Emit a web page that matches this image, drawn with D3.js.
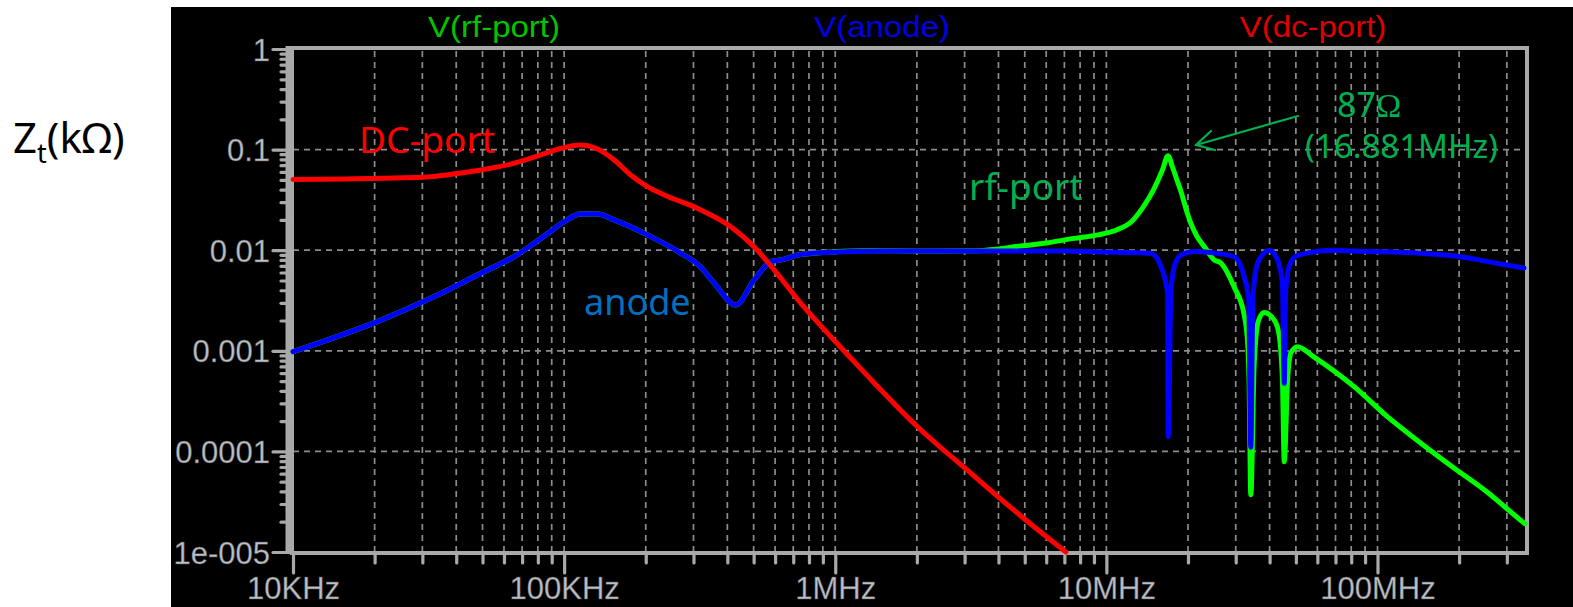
<!DOCTYPE html>
<html><head><meta charset="utf-8">
<script src="https://cdn.jsdelivr.net/npm/d3@7"></script>
<style>body{margin:0;background:#fff;} svg{display:block}</style>
</head><body>
<svg id="c" width="1573" height="607"></svg>
<script>
// ---------- data ----------
const xTickValues = [1e4, 1e5, 1e6, 1e7, 1e8];
const xTickLabels = ["10KHz", "100KHz", "1MHz", "10MHz", "100MHz"];
const yTickValues = [1, 0.1, 0.01, 0.001, 0.0001, 0.00001];
const yTickLabels = ["1", "0.1", "0.01", "0.001", "0.0001", "1e-005"];
const seriesNames = ["V(rf-port)", "V(anode)", "V(dc-port)"];
const annotationLabels = ["rf-port", "anode", "DC-port"];

// V(dc-port): frequency (Hz) and Zt (kOhm)
const dcFreq = [1e4, 2.11e4, 3.22e4, 4.05e4, 4.93e4, 6.53e4, 8.21e4, 9.46e4, 1.15e5, 1.31e5, 1.53e5,
  1.76e5, 2.03e5, 2.34e5, 3.10e5, 4.12e5, 5.02e5, 5.96e5, 7.47e5, 9.89e5, 1.31e6, 2.01e6, 3.07e6, 5.41e6, 7.09e6];
const dcZ = [0.0505, 0.0519, 0.0538, 0.058, 0.0627, 0.0731, 0.0884, 0.1007, 0.111, 0.103, 0.0788,
  0.056, 0.0428, 0.0354, 0.0261, 0.0171, 0.0108, 0.00635, 0.00296, 0.00128, 5.7e-4, 1.76e-4, 6.5e-5, 1.78e-5, 1.0e-5];

// V(anode)
const anodeFreq = [1e4, 2.11e4, 3.22e4, 4.93e4, 6.53e4, 8.72e4, 1.0e5, 1.15e5, 1.33e5, 1.53e5, 2.03e5,
  2.70e5, 3.18e5, 3.58e5, 4.30e5, 5.02e5, 5.80e5, 6.30e5, 7.27e5, 8.75e5, 1.47e6, 6.97e6, 9.6e6,
  1.37e7, 1.46e7, 1.59e7, 1.658e7, 1.682e7, 1.69e7, 1.73e7, 1.78e7, 1.88e7, 2.11e7, 2.57e7,
  2.96e7, 3.22e7, 3.35e7, 3.41e7, 3.47e7, 3.56e7, 3.72e7, 3.99e7, 4.28e7, 4.46e7, 4.53e7, 4.59e7,
  4.72e7, 5.07e7, 6.92e7, 8.2e7, 1.45e8, 2.03e8, 2.55e8, 3.47e8];
const anodeZ = [0.00098, 0.00202, 0.00333, 0.00589, 0.00861, 0.0147, 0.0192, 0.0229, 0.0229, 0.020, 0.0142,
  0.0093, 0.00686, 0.00469, 0.00285, 0.00506, 0.00769, 0.0080, 0.00896, 0.00944, 0.0098, 0.0098, 0.0096,
  0.0094, 0.0093, 0.0069, 0.0047, 0.0037, 1.4e-4, 0.0037, 0.0069, 0.0089, 0.0097, 0.0093,
  0.0086, 0.0055, 0.0032, 1.1e-4, 0.0032, 0.0064, 0.0086, 0.0100, 0.0080, 0.0047, 4.75e-4, 0.0040,
  0.0069, 0.0089, 0.0100, 0.0098, 0.0093, 0.0086, 0.0077, 0.00665];

// V(rf-port) (below ~1 MHz it lies under V(anode))
const rfFreq = [1e4, 2.11e4, 3.22e4, 4.93e4, 6.53e4, 8.72e4, 1.0e5, 1.15e5, 1.33e5, 1.53e5, 2.03e5,
  2.70e5, 3.18e5, 3.58e5, 4.30e5, 5.02e5, 5.80e5, 6.30e5, 7.27e5, 8.75e5, 1.31e6, 2.0e6, 3.35e6,
  4.84e6, 6.0e6, 7.6e6, 9.3e6, 1.09e7, 1.24e7, 1.37e7, 1.49e7, 1.61e7, 1.688e7, 1.75e7, 1.83e7,
  1.88e7, 1.99e7, 2.05e7, 2.16e7, 2.30e7, 2.50e7, 2.64e7, 2.96e7, 3.22e7, 3.32e7, 3.36e7, 3.41e7,
  3.51e7, 3.64e7, 3.82e7, 4.17e7, 4.33e7, 4.46e7, 4.53e7, 4.66e7, 4.79e7, 5.07e7, 5.82e7, 8.2e7,
  1.09e8, 1.45e8, 1.92e8, 2.55e8, 2.93e8, 3.50e8];
const rfZ = [0.00098, 0.00202, 0.00333, 0.00589, 0.00861, 0.0147, 0.0192, 0.0229, 0.0229, 0.020, 0.0142,
  0.0093, 0.00686, 0.00469, 0.00285, 0.00506, 0.00769, 0.0080, 0.00896, 0.00944, 0.0099, 0.0098, 0.0099,
  0.0110, 0.0118, 0.0131, 0.0142, 0.0159, 0.0193, 0.0271, 0.0396, 0.0627, 0.087, 0.068, 0.048,
  0.039, 0.0232, 0.0185, 0.0137, 0.0108, 0.0080, 0.0075, 0.0043, 0.0023, 0.0012, 5.0e-4, 3.7e-5,
  7.5e-4, 0.0020, 0.0024, 0.0020, 0.00148, 5.1e-4, 7.9e-5, 5.1e-4, 9.5e-4, 0.0011, 8.7e-4, 4.4e-4,
  2.2e-4, 1.2e-4, 6.8e-5, 3.9e-5, 2.85e-5, 1.9e-5];

// ---------- chart ----------
const W = 1573, H = 607;
const svg = d3.select("#c");
svg.append("rect").attr("width", W).attr("height", H).attr("fill", "#fff");
svg.append("rect").attr("x", 171).attr("y", 7).attr("width", W - 171).attr("height", H - 7).attr("fill", "#000");

const L = 293, R = 1525, T = 49, B = 552;
const x = d3.scaleLog().domain([1e4, 3.5e8]).range([L, R]);
const y = d3.scaleLog().domain([1e-5, 1]).range([B, T]);

const xMinor = [];
d3.range(4, 9).forEach(e => d3.range(2, 10).forEach(m => { const v = m * Math.pow(10, e); if (v < 3.5e8) xMinor.push(v); }));
const yMinor = [];
d3.range(-5, 0).forEach(e => d3.range(2, 10).forEach(m => yMinor.push(m * Math.pow(10, e))));

const gridCol = "#8c8c8c", axisCol = "#a9a9a9", labCol = "#b3c0d2";

// grid
const grid = svg.append("g").attr("stroke", gridCol).attr("stroke-width", 1.7).attr("stroke-dasharray", "6,5");
grid.selectAll(".vx").data(xMinor.concat(xTickValues.slice(1))).join("line")
  .attr("x1", d => x(d)).attr("x2", d => x(d)).attr("y1", T + 2).attr("y2", B);
grid.selectAll(".hy").data(yTickValues.slice(1, -1)).join("line")
  .attr("x1", L).attr("x2", R).attr("y1", d => y(d)).attr("y2", d => y(d));

// frame
svg.append("rect").attr("x", L - 1).attr("y", T - 1).attr("width", R - L + 3).attr("height", B - T + 2)
  .attr("fill", "none").attr("stroke", axisCol).attr("stroke-width", 4);

// left axis: thick band + ticks
svg.append("line").attr("x1", L - 4).attr("x2", L - 4).attr("y1", T - 3).attr("y2", B + 2)
  .attr("stroke", axisCol).attr("stroke-width", 7);
function styleAxis(g) {
  g.select(".domain").remove();
  g.selectAll(".tick line").attr("stroke", axisCol).attr("stroke-width", 3.2).attr("stroke-linecap", "round");
}
const yMinorAxis = svg.append("g").attr("transform", `translate(${L - 4},0)`)
  .call(d3.axisLeft(y).tickValues(yMinor).tickSize(8).tickFormat(""));
styleAxis(yMinorAxis);
const yMajorAxis = svg.append("g").attr("transform", `translate(${L - 4},0)`)
  .call(d3.axisLeft(y).tickValues(yTickValues).tickSize(16).tickPadding(3)
    .tickFormat((d, i) => yTickLabels[i]));
styleAxis(yMajorAxis);
yMajorAxis.selectAll(".tick text").attr("fill", labCol).attr("font-family", "Liberation Sans, Arial, sans-serif")
  .attr("font-size", 31).attr("stroke", "#6b5030").attr("stroke-width", 0.4).attr("dy", "0.36em");

// bottom axis
const xMinorAxis = svg.append("g").attr("transform", `translate(0,${B + 1})`)
  .call(d3.axisBottom(x).tickValues(xMinor).tickSize(10).tickFormat(""));
styleAxis(xMinorAxis);
const xMajorAxis = svg.append("g").attr("transform", `translate(0,${B + 1})`)
  .call(d3.axisBottom(x).tickValues(xTickValues).tickSize(20).tickPadding(4)
    .tickFormat((d, i) => xTickLabels[i]));
styleAxis(xMajorAxis);
xMajorAxis.selectAll(".tick text").attr("fill", labCol).attr("font-family", "Liberation Sans, Arial, sans-serif")
  .attr("font-size", 31).attr("stroke", "#6b5030").attr("stroke-width", 0.4);

// series
const series = [
  { f: rfFreq, z: rfZ, color: "#00ff00" },
  { f: anodeFreq, z: anodeZ, color: "#0000ff" },
  { f: dcFreq, z: dcZ, color: "#ff0000" }
];
const line = d3.line().x(d => x(d[0])).y(d => y(d[1])).curve(d3.curveMonotoneX);
const plot = svg.append("g");
series.forEach(s => {
  plot.append("path").datum(s.f.map((f, i) => [f, s.z[i]]))
    .attr("d", line).attr("fill", "none").attr("stroke", s.color)
    .attr("stroke-width", 5).attr("stroke-linejoin", "round").attr("stroke-linecap", "round");
});

// legend titles
const legendCols = ["#00c400", "#0000e6", "#e00000"];
const legendX = [494, 882, 1313];
seriesNames.forEach((n, i) => {
  svg.append("text").attr("transform", `translate(${legendX[i]},37) scale(1.1,1)`)
    .attr("text-anchor", "middle").attr("font-family", "Liberation Sans, Arial, sans-serif")
    .attr("font-size", 30).attr("fill", legendCols[i]).text(n);
});

// annotations
const ann = svg.append("g").attr("font-family", "Noto Sans, Open Sans, sans-serif");
ann.append("text").attr("x", 359).attr("y", 153).attr("font-size", 37).attr("fill", "#ff0000").text(annotationLabels[2]);
ann.append("text").attr("x", 584).attr("y", 315).attr("font-size", 36).attr("fill", "#0070c0").text(annotationLabels[1]);
ann.append("text").attr("x", 969).attr("y", 200).attr("font-size", 37).attr("fill", "#00b050").text(annotationLabels[0]);
const t87 = ann.append("text").attr("x", 1337).attr("y", 117).attr("font-size", 34).attr("fill", "#00b050");
t87.append("tspan").text("87");
t87.append("tspan").attr("font-family", "Liberation Serif, serif").text("Ω");
ann.append("text").attr("x", 1305).attr("y", 158).attr("font-size", 33).attr("fill", "#00b050").text("(16.881MHz)");
ann.append("path").attr("d", "M1298,116 L1196,145 M1211,131 L1196,145 L1215,150")
  .attr("fill", "none").attr("stroke", "#00b050").attr("stroke-width", 2.2).attr("stroke-linecap", "round");

// y-axis title
const yt = svg.append("text").attr("x", 13).attr("y", 153).attr("font-family", "Noto Sans, Open Sans, sans-serif")
  .attr("font-size", 42).attr("fill", "#000");
yt.append("tspan").text("Z");
yt.append("tspan").attr("font-size", 27).attr("dy", 10).text("t");
yt.append("tspan").attr("dy", -10).text("(kΩ)");
</script>
</body></html>
